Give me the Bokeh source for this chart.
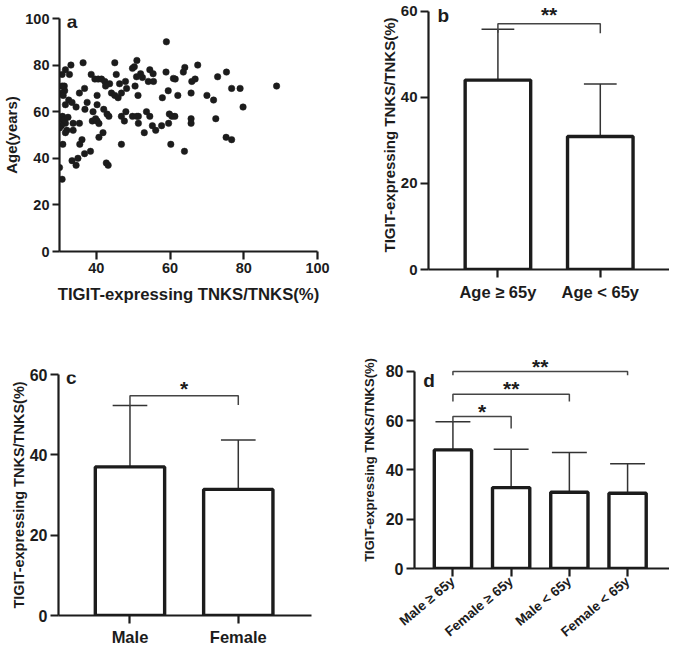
import math
from bokeh.plotting import figure
from bokeh.layouts import column, row
from bokeh.models import Range1d, FixedTicker, ColumnDataSource
from bokeh.core.properties import value
from bokeh.embed import file_html
from bokeh.resources import INLINE

FONT = "Liberation Sans"
INK = "#1c1c1c"

# ---------------- data ----------------
# panel a: scatter (TIGIT-expressing TNKS/TNKS %, Age in years)
scatter_x = [59, 51, 36.4, 45, 33.1, 67.5, 64, 63.6, 49.8, 50.3, 31.6, 30.7, 32.7, 45.4, 54.5, 55.4, 52,
             52.5, 50.9, 58.9, 75.3, 72.9, 38.6, 39.6, 40.5, 41.4, 42.3, 43.6, 46.3, 47.9, 42.5, 54.1, 55.5,
             60.9, 61.4, 65.9, 66.8, 31.3, 31.4, 30.7, 50.5, 59.5, 36.8, 48.2, 76.7, 79, 88.9, 30.7, 31,
             35.4, 44.1, 46.8, 45, 45.9, 40.2, 51.3, 62.1, 65.7, 70, 71.8, 57.9, 32.5, 33.4, 37.5, 34.5,
             31.6, 40.2, 79.8, 36.9, 42, 42.9, 43.4, 48, 53.6, 39.1, 38.9, 30.8, 30.6, 31.4, 31.6, 32.3,
             30.5, 30, 46.8, 49.8, 51, 51.4, 54.5, 59.8, 60.5, 61.3, 65.7, 72.4, 39.8, 40.2, 40.7, 47.6,
             59.6, 65.7, 51.4, 33.7, 35.4, 55.2, 56.1, 57.7, 33.7, 32, 31.6, 53, 41.8, 40.7, 75.2, 76.7,
             36.1, 35.5, 30.9, 46.8, 60.2, 63.9, 36.8, 38.4, 35, 33.4, 34.5, 42.7, 43.2, 30, 30.7]
scatter_y = [90, 82, 81, 81, 80, 80, 79, 77, 78.6, 79.3, 78, 76, 76, 76, 78, 76.3, 76.3,
             74.7, 75, 77, 77, 75, 76, 74, 74, 74, 73, 72, 72, 73, 71, 73, 73,
             74.3, 74, 73, 74, 71, 69, 71, 71, 69, 70, 70, 70, 70, 71, 68, 67,
             68, 68, 68, 67, 66, 67, 67, 67, 68, 67, 65, 66, 65, 64, 64, 62,
             63, 63, 62, 61, 61, 59, 58, 60, 60, 60, 56, 58, 56.5, 56.5, 55, 57.6,
             54, 53, 58, 58, 58, 58, 58, 59, 58, 58, 57, 57, 57, 56, 54.9, 56,
             55, 55, 55, 55, 55, 54, 52, 54, 52, 52, 51, 51, 51, 49, 49, 48,
             48, 46, 46, 46, 46, 43, 42, 43, 40, 39, 37, 38, 37, 36, 31]
a_xticks = [40, 60, 80, 100]
a_yticks = [0, 20, 40, 60, 80, 100]

# panel b: age groups
b_cats = ["Age \u2265 65y", "Age < 65y"]
b_mean = [44.0, 30.9]
b_err = [11.8, 12.2]
b_brackets = dict(xl=[1], xr=[2], y=[57.1], yl=[55.0], yr=[54.9], label=["**"], ly=[60.4])

# panel c: sex
c_cats = ["Male", "Female"]
c_mean = [37.0, 31.4]
c_err = [15.3, 12.3]
c_brackets = dict(xl=[1], xr=[2], y=[54.7], yl=[52.3], yr=[52.4], label=["*"], ly=[57.8])

# panel d: sex x age
d_cats = ["Male \u2265 65y", "Female \u2265 65y", "Male < 65y", "Female < 65y"]
d_mean = [48.1, 32.8, 30.9, 30.5]
d_err = [11.4, 15.6, 16.1, 12.0]
d_brackets = dict(xl=[1, 1, 1], xr=[2, 3, 4], y=[61.6, 70.7, 79.9], yl=[59.5, 67.7, 78.4],
                  yr=[56.8, 67.7, 78.4], label=["*", "**", "**"], ly=[65.6, 75.0, 84.0])

Y_LABEL = "TIGIT-expressing TNKS/TNKS(%)"


def style(p, tick_px):
    p.grid.visible = False
    p.outline_line_color = None
    p.background_fill_color = "white"
    p.border_fill_color = "white"
    for ax in (p.xaxis[0], p.yaxis[0]):
        ax.axis_line_width = 2.2
        ax.axis_line_color = INK
        ax.major_tick_line_width = 2.2
        ax.major_tick_line_color = INK
        ax.major_tick_out = 8
        ax.major_tick_in = 0
        ax.minor_tick_line_color = None
        ax.major_label_text_font = FONT
        ax.major_label_text_font_style = "bold"
        ax.major_label_text_font_size = tick_px
        ax.major_label_text_color = INK
        ax.major_label_standoff = 3
        ax.axis_label_text_font = FONT
        ax.axis_label_text_font_style = "bold"
        ax.axis_label_text_color = INK


def panel_letter(p, x, y, letter):
    p.text(x=[x], y=[y], text=[letter], text_font=value(FONT), text_font_style="bold",
           text_font_size="19px", text_color=INK, text_align="left", text_baseline="middle")


# ---------------- panel a ----------------
pa = figure(width=336, height=316, output_backend="svg", toolbar_location=None,
            x_range=Range1d(30, 100), y_range=Range1d(0, 100),
            min_border_left=55, min_border_right=19, min_border_top=18, min_border_bottom=65)
style(pa, "14.5px")
pa.yaxis.major_tick_out = 7
pa.scatter(x=scatter_x, y=scatter_y, size=6.5, fill_color=INK, line_color=INK, line_width=0.5)
pa.xaxis.ticker = FixedTicker(ticks=a_xticks)
pa.yaxis.ticker = FixedTicker(ticks=a_yticks)
pa.xaxis.axis_label = "TIGIT-expressing TNKS/TNKS(%)"
pa.yaxis.axis_label = "Age(years)"
pa.xaxis.axis_label_text_font_size = "16.7px"
pa.yaxis.axis_label_text_font_size = "15px"
pa.xaxis.axis_label_standoff = 9
pa.yaxis.axis_label_standoff = 2
panel_letter(pa, 32.0, 98.6, "a")


def bar_panel(cats, means, errs, br, width, height, borders, xr, yr, yticks, ybound, cap_w,
              letter_pos, letter, tick_px, ylab_px, ylab_standoff, xtick_px, xtick_standoff,
              angle=None):
    p = figure(width=width, height=height, output_backend="svg", toolbar_location=None,
               x_range=Range1d(*xr), y_range=Range1d(*yr),
               min_border_left=borders[0], min_border_right=borders[1],
               min_border_top=borders[2], min_border_bottom=borders[3])
    style(p, tick_px)
    pos = [i + 1 for i in range(len(cats))]
    tops = [m + e for m, e in zip(means, errs)]
    src = ColumnDataSource(dict(x=pos, m=means, t=tops,
                                cl=[x - cap_w / 2 for x in pos], cr=[x + cap_w / 2 for x in pos]))
    p.segment(x0="x", y0="m", x1="x", y1="t", source=src, line_color="#333333", line_width=1.5)
    p.segment(x0="cl", y0="t", x1="cr", y1="t", source=src, line_color="#333333", line_width=1.5)
    p.vbar(x="x", top="m", bottom=0, width=0.64, source=src, fill_color="white",
           line_color=INK, line_width=3.4)
    xs = [[a, a, b, b] for a, b in zip(br["xl"], br["xr"])]
    ys = [[yl, y, y, yrr] for yl, y, yrr in zip(br["yl"], br["y"], br["yr"])]
    p.multi_line(xs=xs, ys=ys, line_color="#444444", line_width=1.5)
    p.text(x=[(a + b) / 2 for a, b in zip(br["xl"], br["xr"])], y=br["ly"], text=br["label"],
           text_font=value(FONT), text_font_style="bold", text_font_size="21px",
           text_color=INK, text_align="center", text_baseline="middle", y_offset=5)
    p.yaxis.ticker = FixedTicker(ticks=yticks)
    p.yaxis.bounds = ybound
    p.xaxis.ticker = FixedTicker(ticks=pos)
    p.xaxis.major_label_overrides = {i + 1: c for i, c in enumerate(cats)}
    p.xaxis.major_label_text_font_size = xtick_px
    p.xaxis.major_label_standoff = xtick_standoff
    if angle is not None:
        p.xaxis.major_label_orientation = angle
    p.yaxis.axis_label = Y_LABEL
    p.yaxis.axis_label_text_font_size = ylab_px
    p.yaxis.axis_label_standoff = ylab_standoff
    panel_letter(p, letter_pos[0], letter_pos[1], letter)
    return p


pb = bar_panel(b_cats, b_mean, b_err, b_brackets, 333, 316, (92, 0, 0, 47),
               (0.322, 2.676), (0, 62.5), [0, 20, 40, 60], (0, 60), 0.32,
               (0.41, 59.0), "b", "15px", "15px", 0, "16.5px", 5)
pc = bar_panel(c_cats, c_mean, c_err, c_brackets, 336, 332, (58, 25, 58, 32),
               (0.34, 2.676), (0, 60), [0, 20, 40, 60], (0, 60), 0.32,
               (0.41, 59.2), "c", "16px", "14.5px", 0, "16.5px", 4)
pd = bar_panel(d_cats, d_mean, d_err, d_brackets, 333, 332, (78, 0, 35, 78),
               (0.34, 4.72), (0, 88), [0, 20, 40, 60, 80], (0, 80), 0.6,
               (0.49, 76.2), "d", "16px", "13px", 6, "13.5px", 3, angle=math.radians(40))

layout = column(row(column(pa), column(pb)), row(column(pc), column(pd)))
open("out.html", "w").write(file_html(layout, INLINE))
